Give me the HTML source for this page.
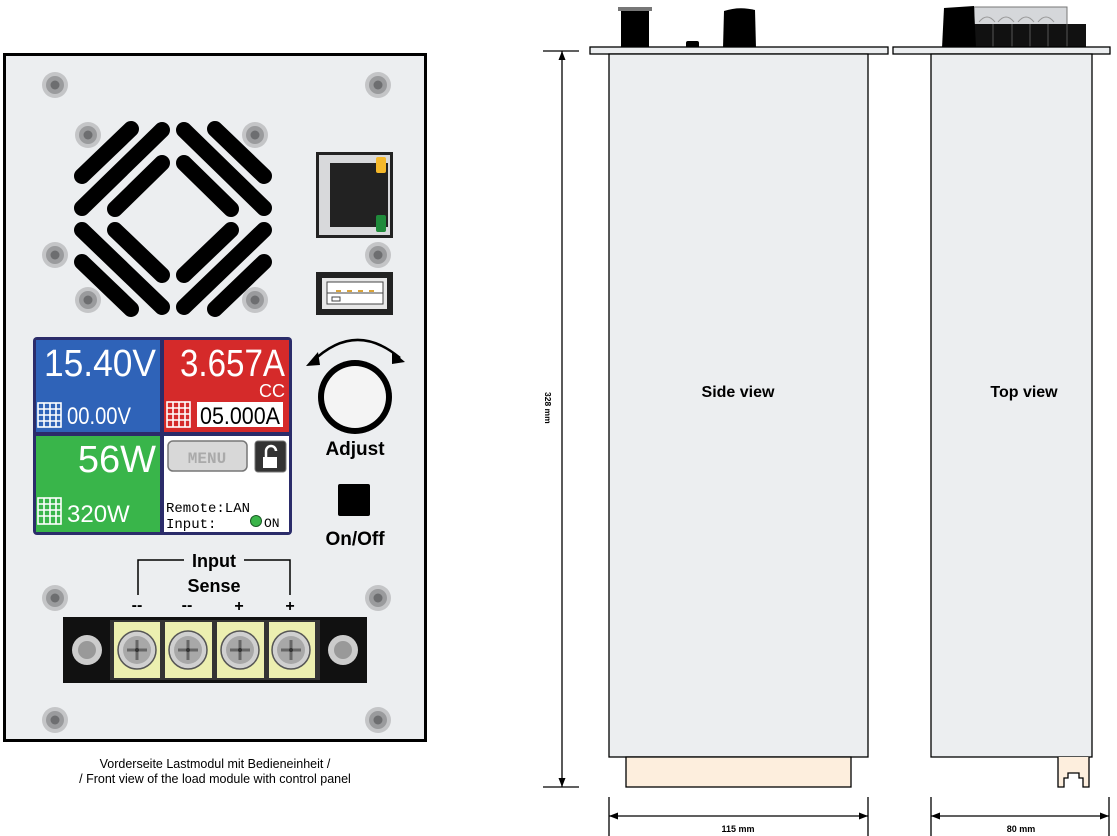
<!DOCTYPE html>
<html><head><meta charset="utf-8"><style>
html,body{margin:0;padding:0;background:#fff;}
svg{display:block;font-family:"Liberation Sans",sans-serif;}
</style></head><body>
<svg width="1117" height="836" viewBox="0 0 1117 836" xmlns="http://www.w3.org/2000/svg">
<defs>
<g id="scr"><circle r="13" fill="#c4c5c7"/><circle r="9" fill="#9a9b9d"/><circle r="4.5" fill="#6d6e70"/></g>
<g id="ts"><circle r="19" fill="#d0d0d0" stroke="#555" stroke-width="1.5"/><circle r="14" fill="#a8a8a8"/><path d="M-10 0H10M0 -10V10" stroke="#666" stroke-width="3"/><circle r="2" fill="#333"/></g>
</defs>
<rect x="4.5" y="54.5" width="421" height="686" fill="#eceef0" stroke="#000" stroke-width="3"/>
<use href="#scr" x="55" y="85"/><use href="#scr" x="378" y="85"/>
<use href="#scr" x="55" y="255"/><use href="#scr" x="378" y="255"/>
<use href="#scr" x="88" y="135"/><use href="#scr" x="255" y="135"/>
<use href="#scr" x="88" y="300"/><use href="#scr" x="255" y="300"/>
<use href="#scr" x="55" y="598"/><use href="#scr" x="378" y="598"/>
<use href="#scr" x="55" y="720"/><use href="#scr" x="378" y="720"/>
<g stroke="#000" stroke-width="16" stroke-linecap="round">
<line x1="82" y1="176" x2="131" y2="129"/><line x1="82" y1="208" x2="162" y2="130"/><line x1="115" y1="209" x2="162" y2="163"/>
<line x1="264" y1="176" x2="215" y2="129"/><line x1="264" y1="208" x2="184" y2="130"/><line x1="231" y1="209" x2="184" y2="163"/>
<line x1="82" y1="230" x2="162" y2="307"/><line x1="82" y1="262" x2="131" y2="309"/><line x1="115" y1="230" x2="162" y2="275"/>
<line x1="264" y1="230" x2="184" y2="307"/><line x1="264" y1="262" x2="215" y2="309"/><line x1="231" y1="230" x2="184" y2="275"/>
</g>
<rect x="316" y="152" width="77" height="86" fill="#222"/>
<rect x="319" y="155" width="71" height="80" fill="#d8d9db"/>
<rect x="330" y="163" width="58" height="64" fill="#222"/>
<rect x="376" y="157" width="10" height="16" rx="2" fill="#f5b82a"/>
<rect x="376" y="215" width="10" height="17" rx="2" fill="#1f8a3a"/>
<rect x="316" y="272" width="77" height="43" fill="#222"/>
<rect x="322" y="278" width="65" height="31" fill="#e8e8e8"/>
<rect x="327" y="282" width="56" height="22" fill="#fff" stroke="#444"/>
<line x1="327" y1="293" x2="383" y2="293" stroke="#444"/>
<g fill="#d9a33a"><rect x="336" y="290" width="5" height="2"/><rect x="347" y="290" width="5" height="2"/><rect x="358" y="290" width="5" height="2"/><rect x="369" y="290" width="5" height="2"/></g>
<rect x="332" y="297" width="8" height="4" fill="#fff" stroke="#444"/>
<rect x="33" y="337" width="259" height="198" rx="4" fill="#2b2c6a"/>
<rect x="36" y="340" width="124" height="92" fill="#2f63b8"/>
<rect x="164" y="340" width="125" height="92" fill="#d52a2a"/>
<rect x="36" y="436" width="124" height="96" fill="#39b54a"/>
<rect x="164" y="436" width="125" height="96" fill="#fff"/>
<g font-family="Liberation Sans Narrow,Liberation Sans,sans-serif" fill="#fff">
<text x="156" y="376" font-size="38" text-anchor="end" textLength="112" lengthAdjust="spacingAndGlyphs">15.40V</text>
<text x="285" y="376" font-size="38" text-anchor="end" textLength="105" lengthAdjust="spacingAndGlyphs">3.657A</text>
<text x="285" y="397" font-size="18" text-anchor="end">CC</text>
<text x="67" y="424" font-size="24" textLength="64" lengthAdjust="spacingAndGlyphs">00.00V</text>
<text x="156" y="472" font-size="38" text-anchor="end">56W</text>
<text x="67" y="522" font-size="24">320W</text>
</g>
<rect x="197" y="402" width="86" height="25" fill="#fff"/>
<text x="200" y="424" font-size="24" font-family="Liberation Sans Narrow,Liberation Sans,sans-serif" textLength="80" lengthAdjust="spacingAndGlyphs">05.000A</text>
<g fill="none" stroke="#fff" stroke-width="1.6">
<rect x="38" y="403" width="23" height="24"/><path d="M44 403V427M50 403V427M56 403V427M38 409H61M38 415H61M38 421H61"/>
<rect x="38" y="498" width="23" height="26"/><path d="M44 498V524M50 498V524M56 498V524M38 504H61M38 510H61M38 516H61"/>
<rect x="167" y="402" width="23" height="25"/><path d="M173 402V427M179 402V427M185 402V427M167 408H190M167 414H190M167 420H190"/>
</g>
<rect x="168" y="441" width="79" height="30" rx="5" fill="#d8d8d8" stroke="#777" stroke-width="1.5"/>
<text x="207" y="463" font-size="16" font-weight="bold" fill="#aaa" text-anchor="middle" font-family="Liberation Mono,monospace">MENU</text>
<rect x="255" y="441" width="31" height="31" rx="3" fill="#333" stroke="#777"/>
<rect x="263" y="457" width="14" height="11" fill="#fff"/><path d="M266 457V451a5 5 0 0 1 10 0" fill="none" stroke="#fff" stroke-width="2.5"/>
<text x="166" y="512" font-size="14" font-family="Liberation Mono,monospace" fill="#000">Remote:LAN</text>
<text x="166" y="528" font-size="14" font-family="Liberation Mono,monospace" fill="#000">Input:</text>
<circle cx="256" cy="521" r="5.5" fill="#3bb54a" stroke="#1a5a25"/>
<text x="264" y="527" font-size="13" font-family="Liberation Mono,monospace" fill="#000">ON</text>
<path d="M312 362 Q355 320 400 358" fill="none" stroke="#000" stroke-width="2.5"/>
<path d="M306 366 L318 352 L320 365 Z M405 362 L392 351 L392 364 Z" fill="#000"/>
<circle cx="355" cy="397" r="37" fill="#000"/>
<circle cx="355" cy="397" r="31" fill="#f4f4f4"/>
<text x="355" y="455" font-size="19" font-weight="bold" text-anchor="middle">Adjust</text>
<rect x="338" y="484" width="32" height="32" rx="2" fill="#000"/>
<text x="355" y="545" font-size="19" font-weight="bold" text-anchor="middle">On/Off</text>
<path d="M138 595V560H184M244 560H290V595" fill="none" stroke="#000" stroke-width="1.5"/>
<text x="214" y="567" font-size="18" font-weight="bold" text-anchor="middle">Input</text>
<text x="214" y="592" font-size="18" font-weight="bold" text-anchor="middle">Sense</text>
<g font-size="16" font-weight="bold" text-anchor="middle"><text x="137" y="610">--</text><text x="187" y="610">--</text><text x="239" y="611">+</text><text x="290" y="611">+</text></g>
<rect x="63" y="617" width="304" height="66" fill="#111"/>
<rect x="110" y="620" width="210" height="60" fill="#333"/>
<g fill="#ecefb0"><rect x="114" y="622" width="46" height="56"/><rect x="165" y="622" width="47" height="56"/><rect x="217" y="622" width="47" height="56"/><rect x="269" y="622" width="46" height="56"/></g>
<use href="#ts" x="137" y="650"/><use href="#ts" x="188" y="650"/><use href="#ts" x="240" y="650"/><use href="#ts" x="291" y="650"/>
<circle cx="87" cy="650" r="15" fill="#ccc"/><circle cx="87" cy="650" r="9" fill="#999"/>
<circle cx="343" cy="650" r="15" fill="#ccc"/><circle cx="343" cy="650" r="9" fill="#999"/>
<text x="215" y="768" font-size="12.5" text-anchor="middle">Vorderseite Lastmodul mit Bedieneinheit /</text>
<text x="215" y="783" font-size="12.5" text-anchor="middle">/ Front view of the load module with control panel</text>

<rect x="621" y="9" width="28" height="39" fill="#000"/><rect x="618" y="7" width="34" height="4" fill="#777"/>
<path d="M724 11 Q739 6 755 10 L756 48 L723 48 Z" fill="#000"/>
<rect x="686" y="41" width="13" height="7" rx="2" fill="#000"/>
<rect x="590" y="47" width="298" height="7" fill="#eceef0" stroke="#000" stroke-width="1.3"/>
<rect x="609" y="54" width="259" height="703" fill="#eceef0" stroke="#000" stroke-width="1.3"/>
<rect x="626" y="757" width="225" height="30" fill="#fdeedd" stroke="#000" stroke-width="1.3"/>
<text x="738" y="397" font-size="16" font-weight="bold" text-anchor="middle">Side view</text>
<path d="M543 51H579M543 787H579M562 51V787" stroke="#000" stroke-width="1.3"/>
<path d="M562 51l-3.5 9h7z M562 787l-3.5-9h7z" fill="#000"/>
<text transform="translate(545,392) rotate(90)" font-size="8.5" font-weight="bold">328 mm</text>
<path d="M609 797V837M868 797V837M609 816H868" stroke="#000" stroke-width="1.3"/>
<path d="M609 816l9-3.5v7z M868 816l-9-3.5v7z" fill="#000"/>
<text x="738" y="832" font-size="9" font-weight="bold" text-anchor="middle">115 mm</text>

<rect x="974" y="7" width="93" height="18" fill="#d5d7da" stroke="#777"/>
<g fill="none" stroke="#999"><path d="M979 22q8-10 16 0M998 22q8-10 16 0M1018 22q8-10 16 0M1038 22q8-10 16 0"/></g>
<rect x="974" y="24" width="112" height="24" fill="#111"/>
<g stroke="#555"><path d="M993 24V48M1012 24V48M1030 24V48M1048 24V48M1067 24V48"/></g>
<path d="M944 8 L974 6 L976 48 L942 48 Z" fill="#000"/>
<rect x="893" y="47" width="217" height="7" fill="#eceef0" stroke="#000" stroke-width="1.3"/>
<rect x="931" y="54" width="161" height="703" fill="#eceef0" stroke="#000" stroke-width="1.3"/>
<path d="M1058 757V787H1064V778H1068V773H1079V778H1083V787H1089V757" fill="#fdeedd" stroke="#000" stroke-width="1.3"/>
<text x="1024" y="397" font-size="16" font-weight="bold" text-anchor="middle">Top view</text>
<path d="M931 797V837M1109 797V837M931 816H1109" stroke="#000" stroke-width="1.3"/>
<path d="M931 816l9-3.5v7z M1109 816l-9-3.5v7z" fill="#000"/>
<text x="1021" y="832" font-size="9" font-weight="bold" text-anchor="middle">80 mm</text>
</svg>
</body></html>
